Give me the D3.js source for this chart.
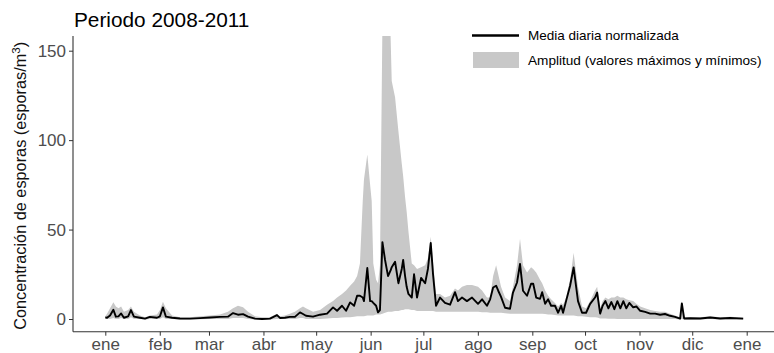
<!DOCTYPE html>
<html><head><meta charset="utf-8">
<script src="https://cdn.jsdelivr.net/npm/d3@7"></script>
<style>body{margin:0;background:#fff}svg{display:block}</style>
</head><body><svg id="c" width="774" height="353"></svg>
<script>
// Day of year (0 = 1 Jan)
const days=[0,1,2.7,4.6,6,7.5,9,10.6,13,14.6,
16.3,19.7,22.6,25.4,29.4,31.1,32.8,34.5,38,42.5,
48.2,53.9,59.6,65.3,69.8,72.7,75.5,78.4,81.2,85.2,
89.2,93.7,97.7,99.4,102.2,105,107.9,110.8,112.5,114.2,
118.2,122.2,126.2,129.6,131.9,134.7,137,139.3,141.6,143.3,
144.9,146.5,147.2,149.1,150.7,151.6,152.5,154.1,155.2,156.3,
157.7,159.2,160.9,162.3,163,164.9,166.8,168.7,169.5,170.6,
171.5,172.5,174.4,175.7,177.4,179.7,182,183.6,185.2,186.5,
188.2,190.5,193.3,196.2,199,200.7,203,205.8,208.7,212.1,
214.4,217.2,219,220.7,222.4,223.6,225.2,227.5,230.3,232,
234.3,236,237.7,240,242.3,243.5,245.2,247.4,248.6,250.3,
252,253.7,255.9,257.7,259.4,260.5,262.2,264.5,266.5,269,
271.3,273.6,275.9,278.7,279.9,281.6,283,284.6,286.3,288,
289.7,291.4,293.1,294.8,296.5,298.2,300.4,302.2,304.4,307.2,
310.1,312.9,315.7,318.5,321.4,324.2,327.1,328.1,329.4,332.8,
338.5,344.2,349.9,355.6,363];
const meanVals=[0.9,0.7,2,5.2,1.3,1.5,3.1,0.7,1.5,5,
1.3,0.7,0.2,1.2,0.7,1.5,6.5,1.3,0.7,0.3,
0.2,0.5,0.8,1.2,1.3,3.3,2.4,2.7,1.3,0.2,
0,0.2,2.2,0.6,0.7,1.2,1.2,3.7,2.8,1.8,
1.3,2.4,3,6.5,4.6,7.4,4.6,9.3,7.4,13,
13,12,10,28.5,10,10,9,7.4,3.7,5,
43,33,24,27,29,32,20,28,33,24,
18,14,12,25,12,23,20,28,42.5,25,
7.4,12,9,8,15,10,12,10,12,8.5,
11,7.4,11,17.6,18.6,15.8,12.4,6.3,5.7,14.8,
20.4,30.8,15.8,13,19.7,19.7,12,11.3,15,8.5,
11,7.4,7.4,3.5,7.4,3.5,10,18.6,28.8,10,
3.5,3.5,8.5,12,14.8,3,7.4,10,6,9.5,
5.5,10,6,10,6,9,6.5,7,4.6,4,
3,3,2.4,2.8,1.8,1.2,0.2,8.7,0.3,0.4,
0.3,0.8,0.3,0.6,0.2];
const maxVals=[1.5,3,6,9.3,7,6,7,4,5,7,
4,2,1,2,2.5,5,9.7,6,2,1,
1,1.5,2,2.5,4,6,7.4,6.5,4,1.5,
1,1,3,1.5,2,3,4,6,7,6,
4,5,8,10,12,14,16,18.6,21,24,
31,66,78,92,75,66,31,22,20,30,
165,190,185,160,133,124,105,87,80,68,
60,49,31,30,28,29,30,34,46,32,
14,14,12,13,17,16,18,19,19,18,
16,12,12,24,30,25,18,12,10,18,
30,44.8,30,26,29,28,26,22,20,16,
13,11,9,7,9,8,12,22,37,18,
7,6,10,16,18,6,10,12,11,12,
12,13,12,12,11,10.5,10,8.5,7,6,
5,4.5,4,4,3,2,1,10,1,1,
1,1.5,1,1.2,0.8];
const minVals=[0,0,0,0.5,0,0,0.5,0,0,1,
0,0,-0.3,0,0,0,1,0,0,-0.3,
-0.3,-0.2,0,0,0,0.5,0.5,0.5,0,-0.3,
-0.5,-0.3,0,0,0,0,0,0.5,0.5,0,
0,0,0.3,0.5,0.5,0.8,1,1,1.2,1.5,
1.5,1.5,1.5,2,2,2,2,2.5,2.5,2.5,
3,3.5,4,4,4,4.5,4.5,5,5,5.5,
5.5,5.5,5,5,4.5,4.5,4.5,4.5,4.5,4.5,
4,4,4,4,4,4,4,4,4,4,
3.8,3.8,3.5,3.5,3.5,3.5,3.5,3.2,3,3,
3,3,3,3,3,3,3,3,3,2.8,
2.5,2.5,2.2,2,2,2,2,2,2,1.5,
1.5,1.2,1,1,0.8,0.3,0.3,0.3,0.2,0.2,
0.2,0,0,0,0,0,0,0,0,0,
0,0,0,0,0,0,-0.3,0,-0.3,-0.3,
-0.3,0,-0.3,-0.2,-0.3];
const monthTickDays=[0,31,59,90,120,151,181,212,243,273,304,334,365];
const monthLabels=["ene","feb","mar","abr","may","jun","jul","ago","sep","oct","nov","dic","ene"];
const yTicks=[0,50,100,150];
const titleText="Periodo 2008-2011";
const legendLabels=["Media diaria normalizada","Amplitud (valores máximos y mínimos)"];

const data=days.map((d,i)=>({day:d,mean:meanVals[i],max:maxVals[i],min:minVals[i]}));

const svg=d3.select("#c");
const FONT="'Liberation Sans', Arial, Helvetica, sans-serif";
const panel={left:73,right:774,top:36,bottom:331.7};

const x=d3.scaleLinear().domain([0,365]).range([105.3,746.7]);
const y=d3.scaleLinear().domain([0,150]).range([319,50.7]);

svg.append("defs").append("clipPath").attr("id","clip")
  .append("rect").attr("x",panel.left).attr("y",panel.top)
  .attr("width",panel.right-panel.left).attr("height",panel.bottom-panel.top);

const g=svg.append("g").attr("clip-path","url(#clip)");
g.append("path").datum(data)
  .attr("fill","#c8c8c8")
  .attr("d",d3.area().x(d=>x(d.day)).y0(d=>y(d.min)).y1(d=>y(d.max)));
g.append("path").datum(data)
  .attr("fill","none").attr("stroke","#000").attr("stroke-width",1.9)
  .attr("stroke-linejoin","round")
  .attr("d",d3.line().x(d=>x(d.day)).y(d=>y(d.mean)));

// axes
const xAxis=svg.append("g").attr("transform",`translate(0,${panel.bottom})`)
  .call(d3.axisBottom(x).tickValues(monthTickDays).tickFormat((d,i)=>monthLabels[i])
    .tickSize(4).tickPadding(2).tickSizeOuter(0));
xAxis.select(".domain").remove();
svg.append("line").attr("x1",panel.left).attr("x2",panel.right)
  .attr("y1",panel.bottom).attr("y2",panel.bottom).attr("stroke","#333").attr("stroke-width",1.1);

const yAxis=svg.append("g").attr("transform",`translate(${panel.left},0)`)
  .call(d3.axisLeft(y).tickValues(yTicks).tickSize(4).tickPadding(3).tickSizeOuter(0));
yAxis.select(".domain").remove();
svg.append("line").attr("x1",panel.left).attr("x2",panel.left)
  .attr("y1",panel.top).attr("y2",panel.bottom).attr("stroke","#333").attr("stroke-width",1.1);

svg.selectAll(".tick line").attr("stroke","#333").attr("stroke-width",1);
svg.selectAll(".tick text").attr("fill","#4d4d4d").style("font-family",FONT).style("font-size","17px");

// title
svg.append("text").attr("x",74).attr("y",26.5).text(titleText)
  .style("font-family",FONT).style("font-size","20.8px").attr("fill","#000");

// y axis title
const yt=svg.append("text").attr("transform",`translate(26,${(panel.top+panel.bottom)/2+2}) rotate(-90)`)
  .attr("text-anchor","middle").style("font-family",FONT).style("font-size","16.3px").attr("fill","#111");
yt.append("tspan").text("Concentración de esporas (esporas/m");
yt.append("tspan").attr("dy",-6).style("font-size","11.5px").text("3");
yt.append("tspan").attr("dy",6).text(")");

// legend
const lg=svg.append("g");
lg.append("line").attr("x1",472).attr("x2",519).attr("y1",35.5).attr("y2",35.5)
  .attr("stroke","#000").attr("stroke-width",2.6);
lg.append("rect").attr("x",473).attr("y",52).attr("width",46).attr("height",16).attr("fill","#c8c8c8");
lg.append("text").attr("x",528).attr("y",40).text(legendLabels[0])
  .style("font-family",FONT).style("font-size","13.5px").attr("fill","#000");
lg.append("text").attr("x",528).attr("y",64.5).text(legendLabels[1])
  .style("font-family",FONT).style("font-size","13.6px").attr("fill","#000");
</script></body></html>
